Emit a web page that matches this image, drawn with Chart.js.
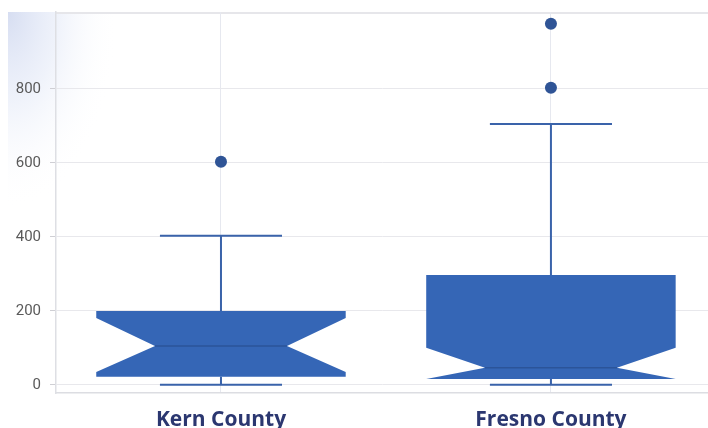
<!DOCTYPE html>
<html>
<head>
<meta charset="utf-8">
<script src="https://cdn.jsdelivr.net/npm/chart.js@4/dist/chart.umd.min.js"></script>
<style>
  html, body { margin: 0; padding: 0; background: #ffffff; }
  #wrap { width: 708px; height: 428px; }
</style>
</head>
<body>
<div id="wrap"><canvas id="c" width="708" height="428"></canvas></div>
<script>
// ---- data ----
const categories   = ['Kern County', 'Fresno County'];
const whiskerLow   = [0, 0];
const q1           = [22, 16];
const notchLow     = [35, 16];
const median       = [105, 46];
const notchHigh    = [181, 100];
const q3           = [200, 297];
const whiskerHigh  = [403, 705];
const outliers     = [[603], [803, 976]];
const yTicks       = [0, 200, 400, 600, 800];

// ---- styling ----
const BOX_HALF = 0.378, NOTCH_HALF = 0.2, CAP_HALF = 0.185;
const BOX_COLOR = '#3566b6', LINE_COLOR = '#3a63aa', MEDIAN_COLOR = '#2b5499', DOT_COLOR = '#2f5496';

const outlierPoints = [];
outliers.forEach((arr, i) => arr.forEach(v => outlierPoints.push({ x: i, y: v })));

const bgPlugin = {
  id: 'bg',
  beforeDraw(chart) {
    const ctx = chart.ctx;
    ctx.save();
    ctx.fillStyle = '#ffffff';
    ctx.fillRect(0, 0, chart.width, chart.height);
    // faint bluish tint in the top-left corner
    ctx.beginPath();
    ctx.rect(8, 12, chart.width - 8, chart.height - 12);
    ctx.clip();
    ctx.translate(8, 12);
    ctx.scale(1, 1.8);
    const g = ctx.createRadialGradient(0, 0, 0, 0, 0, 110);
    g.addColorStop(0, 'rgba(210,218,240,0.9)');
    g.addColorStop(0.45, 'rgba(226,232,247,0.55)');
    g.addColorStop(1, 'rgba(255,255,255,0)');
    ctx.fillStyle = g;
    ctx.fillRect(0, 0, 200, 200);
    ctx.restore();
    // top border line of plot
    const a = chart.chartArea;
    ctx.save();
    ctx.strokeStyle = '#e6e6ea';
    ctx.lineWidth = 2;
    ctx.beginPath();
    ctx.moveTo(a.left, a.top + 1);
    ctx.lineTo(a.right, a.top + 1);
    ctx.stroke();
    ctx.restore();
  }
};

const boxPlugin = {
  id: 'boxes',
  beforeDatasetsDraw(chart) {
    const ctx = chart.ctx;
    const xs = chart.scales.x, ys = chart.scales.y;
    const X = v => xs.getPixelForValue(v);
    const Y = v => ys.getPixelForValue(v);
    ctx.save();
    categories.forEach((cat, i) => {
      // whiskers
      ctx.strokeStyle = LINE_COLOR;
      ctx.lineWidth = 2;
      ctx.beginPath();
      ctx.moveTo(X(i), Y(whiskerHigh[i]));
      ctx.lineTo(X(i), Y(q3[i]));
      ctx.moveTo(X(i), Y(q1[i]));
      ctx.lineTo(X(i), Y(whiskerLow[i]));
      ctx.moveTo(X(i - CAP_HALF), Y(whiskerHigh[i]));
      ctx.lineTo(X(i + CAP_HALF), Y(whiskerHigh[i]));
      ctx.moveTo(X(i - CAP_HALF), Y(whiskerLow[i]));
      ctx.lineTo(X(i + CAP_HALF), Y(whiskerLow[i]));
      ctx.stroke();
      // notched box
      ctx.fillStyle = BOX_COLOR;
      ctx.beginPath();
      ctx.moveTo(X(i - BOX_HALF), Y(q3[i]));
      ctx.lineTo(X(i + BOX_HALF), Y(q3[i]));
      ctx.lineTo(X(i + BOX_HALF), Y(notchHigh[i]));
      ctx.lineTo(X(i + NOTCH_HALF), Y(median[i]));
      ctx.lineTo(X(i + BOX_HALF), Y(notchLow[i]));
      ctx.lineTo(X(i + BOX_HALF), Y(q1[i]));
      ctx.lineTo(X(i - BOX_HALF), Y(q1[i]));
      ctx.lineTo(X(i - BOX_HALF), Y(notchLow[i]));
      ctx.lineTo(X(i - NOTCH_HALF), Y(median[i]));
      ctx.lineTo(X(i - BOX_HALF), Y(notchHigh[i]));
      ctx.closePath();
      ctx.fill();
      // median line
      ctx.strokeStyle = MEDIAN_COLOR;
      ctx.lineWidth = 1.5;
      ctx.beginPath();
      ctx.moveTo(X(i - NOTCH_HALF), Y(median[i]));
      ctx.lineTo(X(i + NOTCH_HALF), Y(median[i]));
      ctx.stroke();
    });
    ctx.restore();
  }
};

new Chart(document.getElementById('c'), {
  type: 'scatter',
  data: {
    datasets: [{
      label: 'Outliers',
      data: outlierPoints,
      pointRadius: 6,
      pointHoverRadius: 6,
      pointBackgroundColor: DOT_COLOR,
      pointBorderColor: DOT_COLOR,
      pointBorderWidth: 0
    }]
  },
  options: {
    responsive: false,
    animation: false,
    devicePixelRatio: 1,
    layout: { autoPadding: false, padding: { top: 12, right: 0, left: 0, bottom: 0 } },
    plugins: { legend: { display: false }, tooltip: { enabled: false } },
    scales: {
      x: {
        type: 'linear',
        min: -0.5,
        max: 1.476,
        afterBuildTicks: s => { s.ticks = categories.map((c, i) => ({ value: i })); },
        afterFit: s => { s.height = 35; s.paddingLeft = 0; s.paddingRight = 0; },
        ticks: {
          callback: v => categories[v],
          font: { family: '"Open Sans", sans-serif', size: 21, weight: 'bold' },
          color: '#2b3770',
          padding: 14,
          maxRotation: 0,
          autoSkip: false
        },
        grid: { color: '#e6e8ef', drawTicks: false, lineWidth: 1 },
        border: { color: '#dcdde2', width: 1.5 }
      },
      y: {
        min: -22,
        max: 1008,
        afterBuildTicks: s => { s.ticks = yTicks.map(v => ({ value: v })); },
        afterFit: s => { s.width = 56; s.paddingTop = 0; s.paddingBottom = 0; },
        ticks: {
          font: { family: 'Roboto, "Liberation Sans", sans-serif', size: 15 },
          color: '#5a5a5a',
          padding: 9
        },
        grid: { color: '#e8e8ec', tickLength: 6, tickColor: '#cfcfd4', lineWidth: 1 },
        border: { color: '#dedfe4', width: 1.5 }
      }
    }
  },
  plugins: [bgPlugin, boxPlugin]
});
</script>
</body>
</html>
